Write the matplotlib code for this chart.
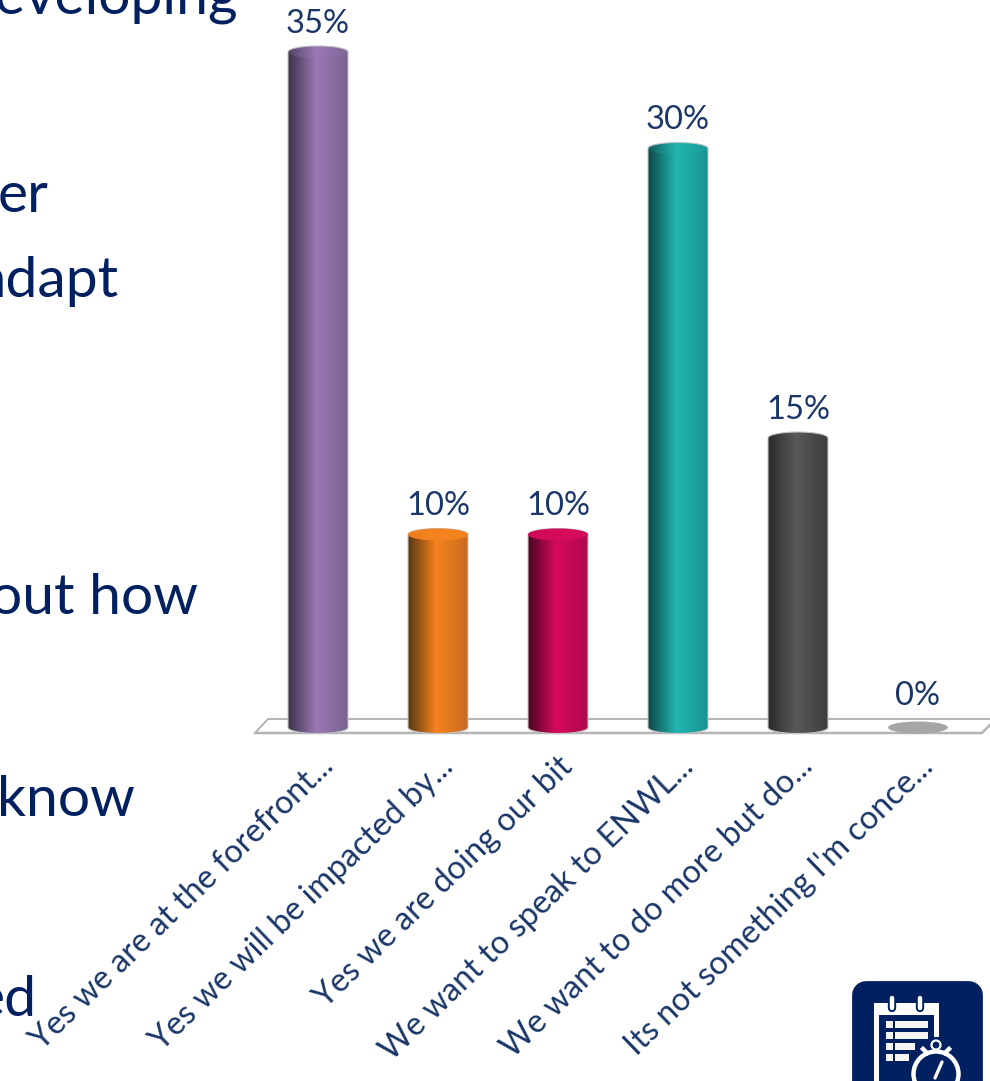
import numpy as np
import matplotlib
matplotlib.use("Agg")
import matplotlib.pyplot as plt
from matplotlib.colors import LinearSegmentedColormap
from matplotlib.patches import Ellipse, FancyBboxPatch, Rectangle, Circle, PathPatch
from matplotlib.path import Path

plt.rcParams['font.family'] = ['Lato', 'DejaVu Sans']

# poll results
answers = ["Yes we are at the forefront...", "Yes we will be impacted by...",
           "Yes we are doing our bit", "We want to speak to ENWL...",
           "We want to do more but do...", "Its not something I'm conce..."]
percent = [35, 10, 10, 30, 15, 0]

# left / middle / right shades of each cylinder
shades = [("#3d3249", "#9a79b6", "#7a6390"),
          ("#5a3710", "#f6831f", "#c76b1e"),
          ("#4c0423", "#d60b5b", "#ae094d"),
          ("#0d4746", "#22b6b1", "#179391"),
          ("#2b2b2b", "#58595b", "#3d3d3e")]
# solid top cap on these, the others just run the shading through
cap_alpha = [0.25, 0.95, 0.95, 0.2, 0.0]

# slide text running in from the left
side_text = ["developing", "er", "adapt", "out how", "know", "ed"]
side_right = [238, 48, 118, 198, 135, 37]
side_base = [14, 212, 297, 614, 816, 1016]

NAVY = "#002060"
LABEL = "#1a3668"
W, H = 990, 1081

fig = plt.figure(figsize=(W / 100, H / 100), dpi=100, facecolor="white")

# chart axes fills the figure, 120px per answer and 19.3px per percent
ax = fig.add_axes([0, 0, 1, 1])
ax.axis("off")
xlim = (-318 / 120, (W - 318) / 120)
ylim = ((727.5 - H) / 19.3, 727.5 / 19.3)

half_w = 30 / 120
cap_h = 6 / 19.3

# floor of the 3d plot
px = fig.add_axes([0, 0, 1, 1])
px.set_xlim(0, W)
px.set_ylim(H, 0)
px.axis("off")
px.plot([255, 268, 1000], [733, 719, 719], color="#a8a8a8", lw=1.2)
px.plot([255, 982, 994], [733, 733, 721], color="#b4b4b4", lw=1.8)


def cylinder(x, val, cols, top_alpha):
    t = np.linspace(np.pi, 2 * np.pi, 40)
    low = np.column_stack([x + half_w * np.cos(t), cap_h * np.sin(t)])
    t2 = np.linspace(0, np.pi, 40)
    up = np.column_stack([x + half_w * np.cos(t2), val + cap_h * np.sin(t2)])
    verts = np.vstack([low, up, low[:1]])
    clip = PathPatch(Path(verts), transform=ax.transData, fc="none", ec="#c4c4c4", lw=0.8, zorder=3)
    ax.add_patch(clip)
    cmap = LinearSegmentedColormap.from_list("cyl", [(0, cols[0]), (0.47, cols[1]), (1, cols[2])])
    im = ax.imshow(np.linspace(0, 1, 200)[None, :], cmap=cmap, aspect="auto",
                   extent=(x - half_w, x + half_w, -cap_h, val + cap_h), zorder=2)
    im.set_clip_path(clip)
    if top_alpha > 0:
        ax.add_patch(Ellipse((x, val), 2 * half_w, 2 * cap_h, fc=cols[1], ec="none",
                             alpha=top_alpha, zorder=3))


for i, val in enumerate(percent):
    if val > 0:
        cylinder(i, val, shades[i], cap_alpha[i])
    else:
        ax.add_patch(Ellipse((i, 0), 2 * half_w, 2 * cap_h, fc="#a6a6a6", ec="none", zorder=2))
    ax.annotate(f"{val}%", (i, val), xytext=(0, 14 if val > 0 else 16), textcoords="offset points",
                ha="center", va="baseline", fontsize=23.5, color=LABEL)
    ax.annotate(answers[i], (i, 0), xytext=(0, -17), textcoords="offset points",
                ha="right", va="top", rotation=44, rotation_mode="anchor",
                fontsize=23.3, color=LABEL)

ax.set_xlim(xlim)
ax.set_ylim(ylim)

for s, r, b in zip(side_text, side_right, side_base):
    px.text(r, b, s, ha="right", va="baseline", fontsize=41, color=NAVY, clip_on=False)

# calendar and stopwatch badge, bottom right
px.add_patch(FancyBboxPatch((866, 995), 103, 120, boxstyle="round,pad=0,rounding_size=0",
                            fc=NAVY, ec=NAVY, lw=20, joinstyle="round", zorder=3))
px.add_patch(Rectangle((874, 1003), 65, 80, fc="white", ec="none", zorder=4))
px.add_patch(Rectangle((879, 1015), 55, 70, fc=NAVY, ec="none", zorder=5))
px.add_patch(Rectangle((934, 1037), 6, 50, fc=NAVY, ec="none", zorder=5))
for rx in (892, 920):
    px.plot([rx, rx], [998, 1008], color=NAVY, lw=6, solid_capstyle="round", zorder=6)
    px.plot([rx, rx], [998, 1008], color="white", lw=3.2, solid_capstyle="round", zorder=7)
for ry, end in zip((1021, 1032, 1043, 1054), (928, 928, 915, 909)):
    px.add_patch(Rectangle((886, ry), 7, 7, fc="#f5f5f5", ec="none", zorder=6))
    px.add_patch(Rectangle((895, ry), end - 895, 7, fc="#f5f5f5", ec="none", zorder=6))
px.add_patch(Circle((936, 1074), 27, fc=NAVY, ec="none", zorder=7))
px.add_patch(Circle((936, 1074), 22.5, fc=NAVY, ec="white", lw=3.2, zorder=8))
px.add_patch(Circle((936, 1045), 4.5, fc=NAVY, ec="white", lw=1.6, zorder=8))
px.add_patch(Rectangle((933, 1049), 6, 4, fc="white", ec="none", zorder=8))
px.plot([923, 927], [1049, 1053], color="white", lw=3.2, zorder=8)
px.plot([949, 945], [1049, 1053], color="white", lw=3.2, zorder=8)
px.plot([935, 942], [1078, 1062], color="white", lw=2.4, solid_capstyle="round", zorder=9)
px.set_zorder(1)
px.patch.set_alpha(0)
ax.set_zorder(2)
ax.patch.set_alpha(0)

fig.savefig("out.png", dpi=100)
